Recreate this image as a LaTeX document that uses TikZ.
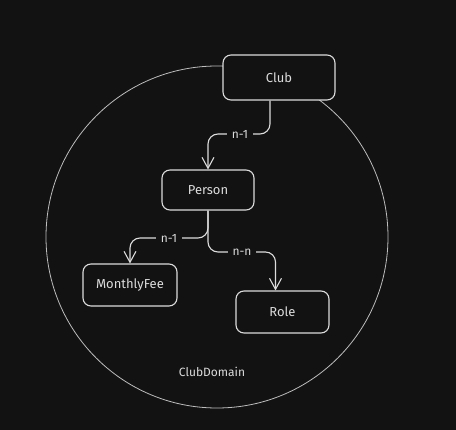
\documentclass[tikz,border=0pt]{standalone}
\usepackage{fontspec}
\setmainfont{Fira Sans}
\usetikzlibrary{arrows.meta}

\definecolor{bgdark}{HTML}{121212}
\definecolor{inkline}{HTML}{DCDCDC}
\definecolor{circline}{HTML}{BDBDBD}

\tikzset{
    entity/.style={draw=inkline, fill=bgdark, line width=1.1pt, rounded corners=8pt,
        text=inkline, font=\fontsize{13}{15}\selectfont},
    rel/.style={draw=inkline, line width=1.1pt, rounded corners=10pt,
        -{Straight Barb[length=11pt,width=12pt,line width=1.1pt]}},
    card/.style={fill=bgdark, text=inkline, inner xsep=5pt, inner ysep=2pt, font=\fontsize{12}{14}\selectfont}
}

\begin{document}
\begin{tikzpicture}[x=1pt, y=-1pt]
        % 背景
        \fill[bgdark] (0,0) rectangle (456,430);
        \useasboundingbox (0,0) rectangle (456,430);

        % 画圆 (域)
        \draw[circline, line width=0.8pt] (217,237) circle (171pt);
        \node[text=inkline, font=\fontsize{12}{14}\selectfont] (domain) at (212,372) {ClubDomain};

        % 定义实体
        \node[entity, minimum width=112pt, minimum height=45pt] (club) at (279,77.5) {Club};
        \node[entity, minimum width=92pt, minimum height=40pt] (person) at (208,190) {Person};
        \node[entity, minimum width=94pt, minimum height=42pt] (fee) at (130,285) {MonthlyFee};
        \node[entity, minimum width=93pt, minimum height=42pt] (role) at (282.5,312) {Role};

        % 画关系
        \draw[rel] ([xshift=-9pt]club.south) |- (240,134) -| (person.north);
        \node[card] at (240,134) {n-1};

        \draw[rel] (person.south) |- (169,238) -| (fee.north);
        \node[card] at (169,238) {n-1};

        \draw[rel] (person.south) |- (242,252) -| ([xshift=-7pt]role.north);
        \node[card] at (242,252) {n-n};
    \end{tikzpicture}
\end{document}
